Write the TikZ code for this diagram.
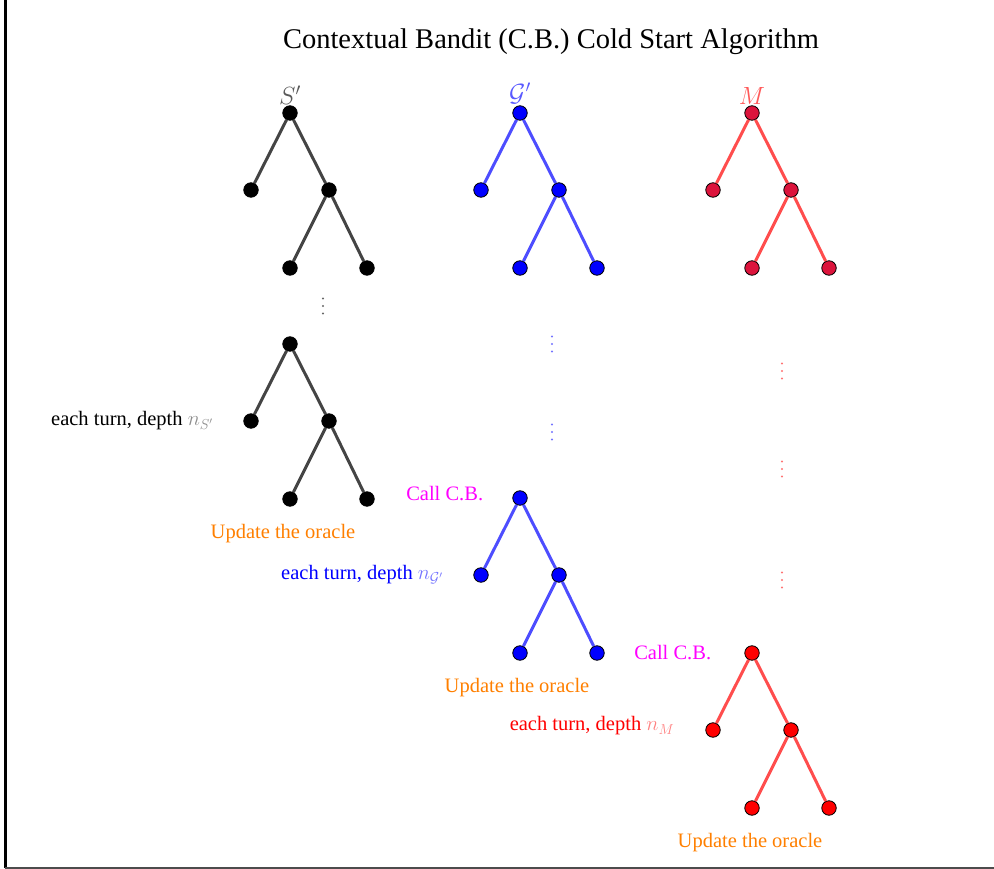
\documentclass[tikz,border=0pt]{standalone}
\usepackage{fontspec}
\setmainfont{Liberation Serif}
\usepackage{xcolor}
\usetikzlibrary{positioning}

\definecolor{sgray}{HTML}{444444}
\definecolor{gblue}{HTML}{4D4DFF}
\definecolor{mred}{HTML}{FF4D4D}
\definecolor{crimson}{HTML}{DC143C}
\definecolor{oracle}{HTML}{FF7F00}
\definecolor{callcb}{HTML}{FF00FF}

\tikzstyle{leaf} = [circle,draw=black,line width=0.8pt,inner sep=0pt,
  minimum size=14.5pt,on grid]
\tikzstyle{branch} = [line width=3pt]
\tikzstyle{note} = [inner sep=0pt,font=\fontsize{20.5}{24}\selectfont]
\tikzstyle{treename} = [inner sep=0pt,font=\fontsize{23}{26}\selectfont]

% #1 name, #2 x, #3 y, #4 colour: three stacked dots for skipped turns
\newcommand{\gapdots}[4]{%
  \coordinate (#1) at (#2,#3);
  \foreach \d in {-7.5,0,7.5}
    \fill [#4] ([yshift=\d pt]#1) circle (1.2pt);
}

% #1 name, #2 x, #3 y, #4 edge colour, #5 fill of the leaves
\newcommand{\cbtree}[5]{%
  \node [leaf,fill=#5] (#1r) at (#2,#3) {};
  \node [leaf,fill=#5,below left=77pt and 39pt of #1r] (#1a) {};
  \node [leaf,fill=#5,below right=77pt and 39pt of #1r] (#1b) {};
  \node [leaf,fill=#5,below left=78pt and 39pt of #1b] (#1c) {};
  \node [leaf,fill=#5,below right=78pt and 38pt of #1b] (#1d) {};
  \draw [branch,#4] (#1a) -- (#1r) -- (#1b) -- (#1c) (#1b) -- (#1d);
}

\begin{document}
\begin{tikzpicture}[x=1pt,y=-1pt]
  \useasboundingbox (0,0) rectangle (994,869);
  \draw [line width=2.5pt,black] (5.5,0) -- (5.5,868);
  \draw [line width=2pt,black!70] (5,867.8) -- (994,867.8);

  \node [inner sep=0pt,font=\fontsize{28.5}{32}\selectfont] (title) at (551,42)
    {Contextual Bandit (C.B.) Cold Start Algorithm};

  % first turns of the three trees
  \cbtree{s1}{290}{113}{sgray}{black}
  \cbtree{g1}{520}{113}{gblue}{blue}
  \cbtree{m1}{752}{113}{mred}{crimson}
  \node [treename,text=black!65,above=1pt of s1r] (sname) {$S'$};
  \node [treename,text=blue!65,above=1pt of g1r] (gname) {$\mathcal{G}'$};
  \node [treename,text=red!65,above=1pt of m1r] (mname) {$M$};

  % skipped turns
  \gapdots{sgap}{323}{306}{black!60}
  \gapdots{ggap1}{552}{344}{blue!55}
  \gapdots{ggap2}{552}{432}{blue!55}
  \gapdots{mgap1}{782}{371}{red!55}
  \gapdots{mgap2}{782}{469}{red!55}
  \gapdots{mgap3}{782}{580}{red!55}

  % S' at depth n_S'
  \cbtree{s2}{290}{344}{sgray}{black}
  \node [note,left=30pt of s2a] (sturn) {each turn, depth
    {\color{black!45}$n_{S'}$}};
  \node [note,text=oracle,below=17pt of s2c,xshift=-7pt] (supd)
    {Update the oracle};

  % G' at depth n_G'
  \cbtree{g2}{520}{498}{gblue}{blue}
  \node [note,text=callcb,left=29pt of g2r,yshift=4pt] (gcall) {Call C.B.};
  \node [note,text=blue,left=30pt of g2a] (gturn) {each turn, depth
    {\color{blue!55}$n_{\mathcal{G}'}$}};
  \node [note,text=oracle,below=17pt of g2c,xshift=-3pt] (gupd)
    {Update the oracle};

  % M at depth n_M
  \cbtree{m2}{752}{653}{mred}{red}
  \node [note,text=callcb,left=33pt of m2r] (mcall) {Call C.B.};
  \node [note,text=red,left=31pt of m2a,yshift=4pt] (mturn) {each turn, depth
    {\color{red!50}$n_M$}};
  \node [note,text=oracle,below=17pt of m2c,xshift=-2pt] (mupd)
    {Update the oracle};
\end{tikzpicture}
\end{document}
